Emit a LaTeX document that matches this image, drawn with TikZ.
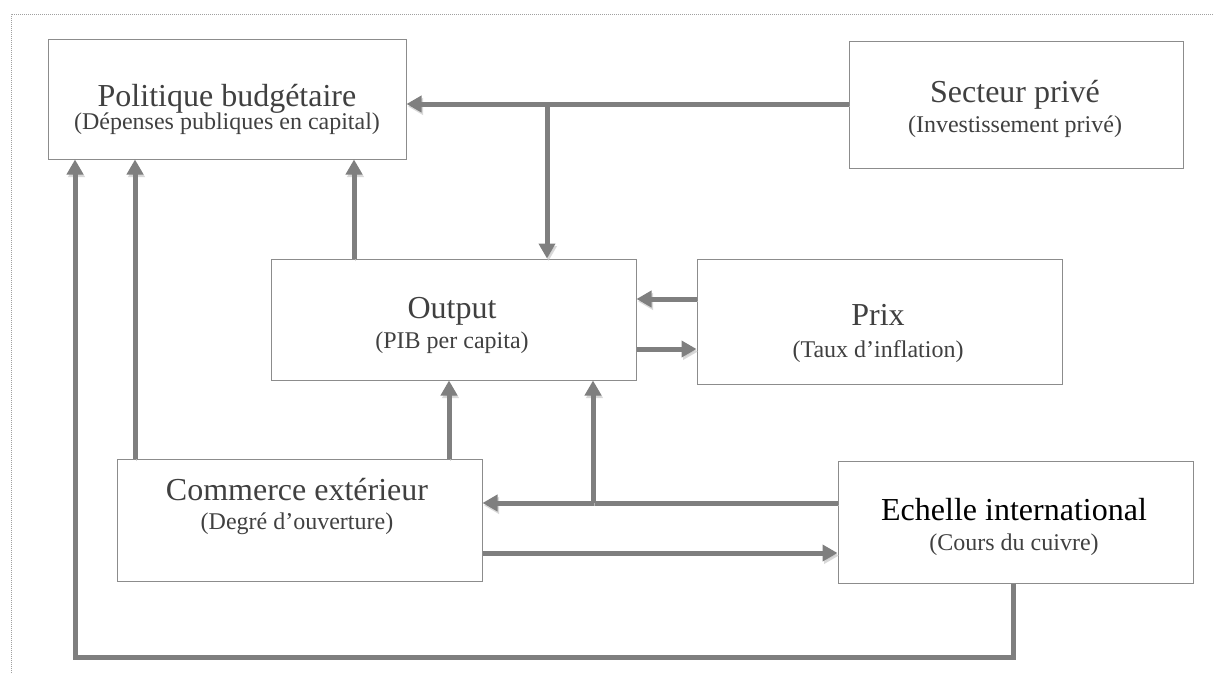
\documentclass[tikz,border=0pt]{standalone}
\usepackage{fontspec}
\setmainfont{Liberation Serif}
\usetikzlibrary{arrows.meta}
\definecolor{arr}{HTML}{7F7F7F}
\definecolor{shd}{HTML}{C8C8C8}
\definecolor{bord}{HTML}{8C8C8C}
\definecolor{txt}{HTML}{404040}
\definecolor{frm}{HTML}{A0A0A0}
\begin{document}
\begin{tikzpicture}[x=1pt,y=-1pt,
  box/.style={draw=bord, line width=1pt, inner sep=0pt},
  ttl/.style={font=\fontsize{32}{36}\selectfont, text=txt, anchor=base, inner sep=0pt},
  sub/.style={font=\fontsize{24}{28}\selectfont, text=txt, anchor=base, inner sep=0pt},
  conn/.style={draw=arr, line width=5pt, -{Triangle[length=15pt,width=16pt]},
    preaction={draw=shd, opacity=0.7, transform canvas={shift={(1.5pt,-2.5pt)}}}},
  frame/.style={draw=frm, line width=1pt, dash pattern=on 1pt off 1pt}]
\useasboundingbox (0,0) rectangle (1213,673);
% frame
\coordinate (f1) at (11,673);
\coordinate (f2) at (11,14);
\coordinate (f3) at (1213,14);
\draw[frame] (f1) -- (f2) -- (f3);
% boxes
\node[box, minimum width=358pt, minimum height=120pt] (pol) at (227,99) {};
\node[box, minimum width=334pt, minimum height=127pt] (sec) at (1016,104.5) {};
\node[box, minimum width=365pt, minimum height=121pt] (out) at (453.5,319.5) {};
\node[box, minimum width=365pt, minimum height=125pt] (prix) at (879.5,321.5) {};
\node[box, minimum width=365pt, minimum height=122pt] (com) at (299.5,520) {};
\node[box, minimum width=355pt, minimum height=122pt] (ech) at (1015.5,522) {};
% texts
\node[ttl] (polT) at (227,106) {Politique budgétaire};
\node[sub] (polS) at (227,129) {(Dépenses publiques en capital)};
\node[ttl] (secT) at (1015,102) {Secteur privé};
\node[sub] (secS) at (1015,132) {(Investissement privé)};
\node[ttl] (outT) at (452,318) {Output};
\node[sub] (outS) at (452,348) {(PIB per capita)};
\node[ttl] (prixT) at (878,325) {Prix};
\node[sub] (prixS) at (878,357) {(Taux d’inflation)};
\node[ttl] (comT) at (297,500) {Commerce extérieur};
\node[sub] (comS) at (297,529) {(Degré d’ouverture)};
\node[ttl, text=black] (echT) at (1014,520) {Echelle international};
\node[sub] (echS) at (1014,550) {(Cours du cuivre)};
% helper coordinates
\coordinate (j1) at (547,104);
\coordinate (j2) at (593,503);
\coordinate (c1) at (1013,657);
\coordinate (c2) at (75,657);
\coordinate (xa) at (135,0);
\coordinate (xb) at (354,0);
\coordinate (xc) at (449,0);
\coordinate (ya) at (0,299);
\coordinate (yb) at (0,349);
\coordinate (yc) at (0,503);
\coordinate (yd) at (0,553);
% connectors
\draw[conn] (sec.west |- j1) -- (pol.east |- j1);
\draw[conn] (j1) -- (j1 |- out.north);
\draw[conn] (xa |- com.north) -- (xa |- pol.south);
\draw[conn] (xb |- out.north) -- (xb |- pol.south);
\draw[conn] (xc |- com.north) -- (xc |- out.south);
\draw[conn] (ech.west |- yc) -- (com.east |- yc);
\draw[conn] (j2) -- (j2 |- out.south);
\draw[conn] (com.east |- yd) -- (ech.west |- yd);
\draw[conn] (prix.west |- ya) -- (out.east |- ya);
\draw[conn] (out.east |- yb) -- (prix.west |- yb);
\draw[conn] (c1 |- ech.south) -- (c1) -- (c2) -- (c2 |- pol.south);
\end{tikzpicture}
\end{document}
